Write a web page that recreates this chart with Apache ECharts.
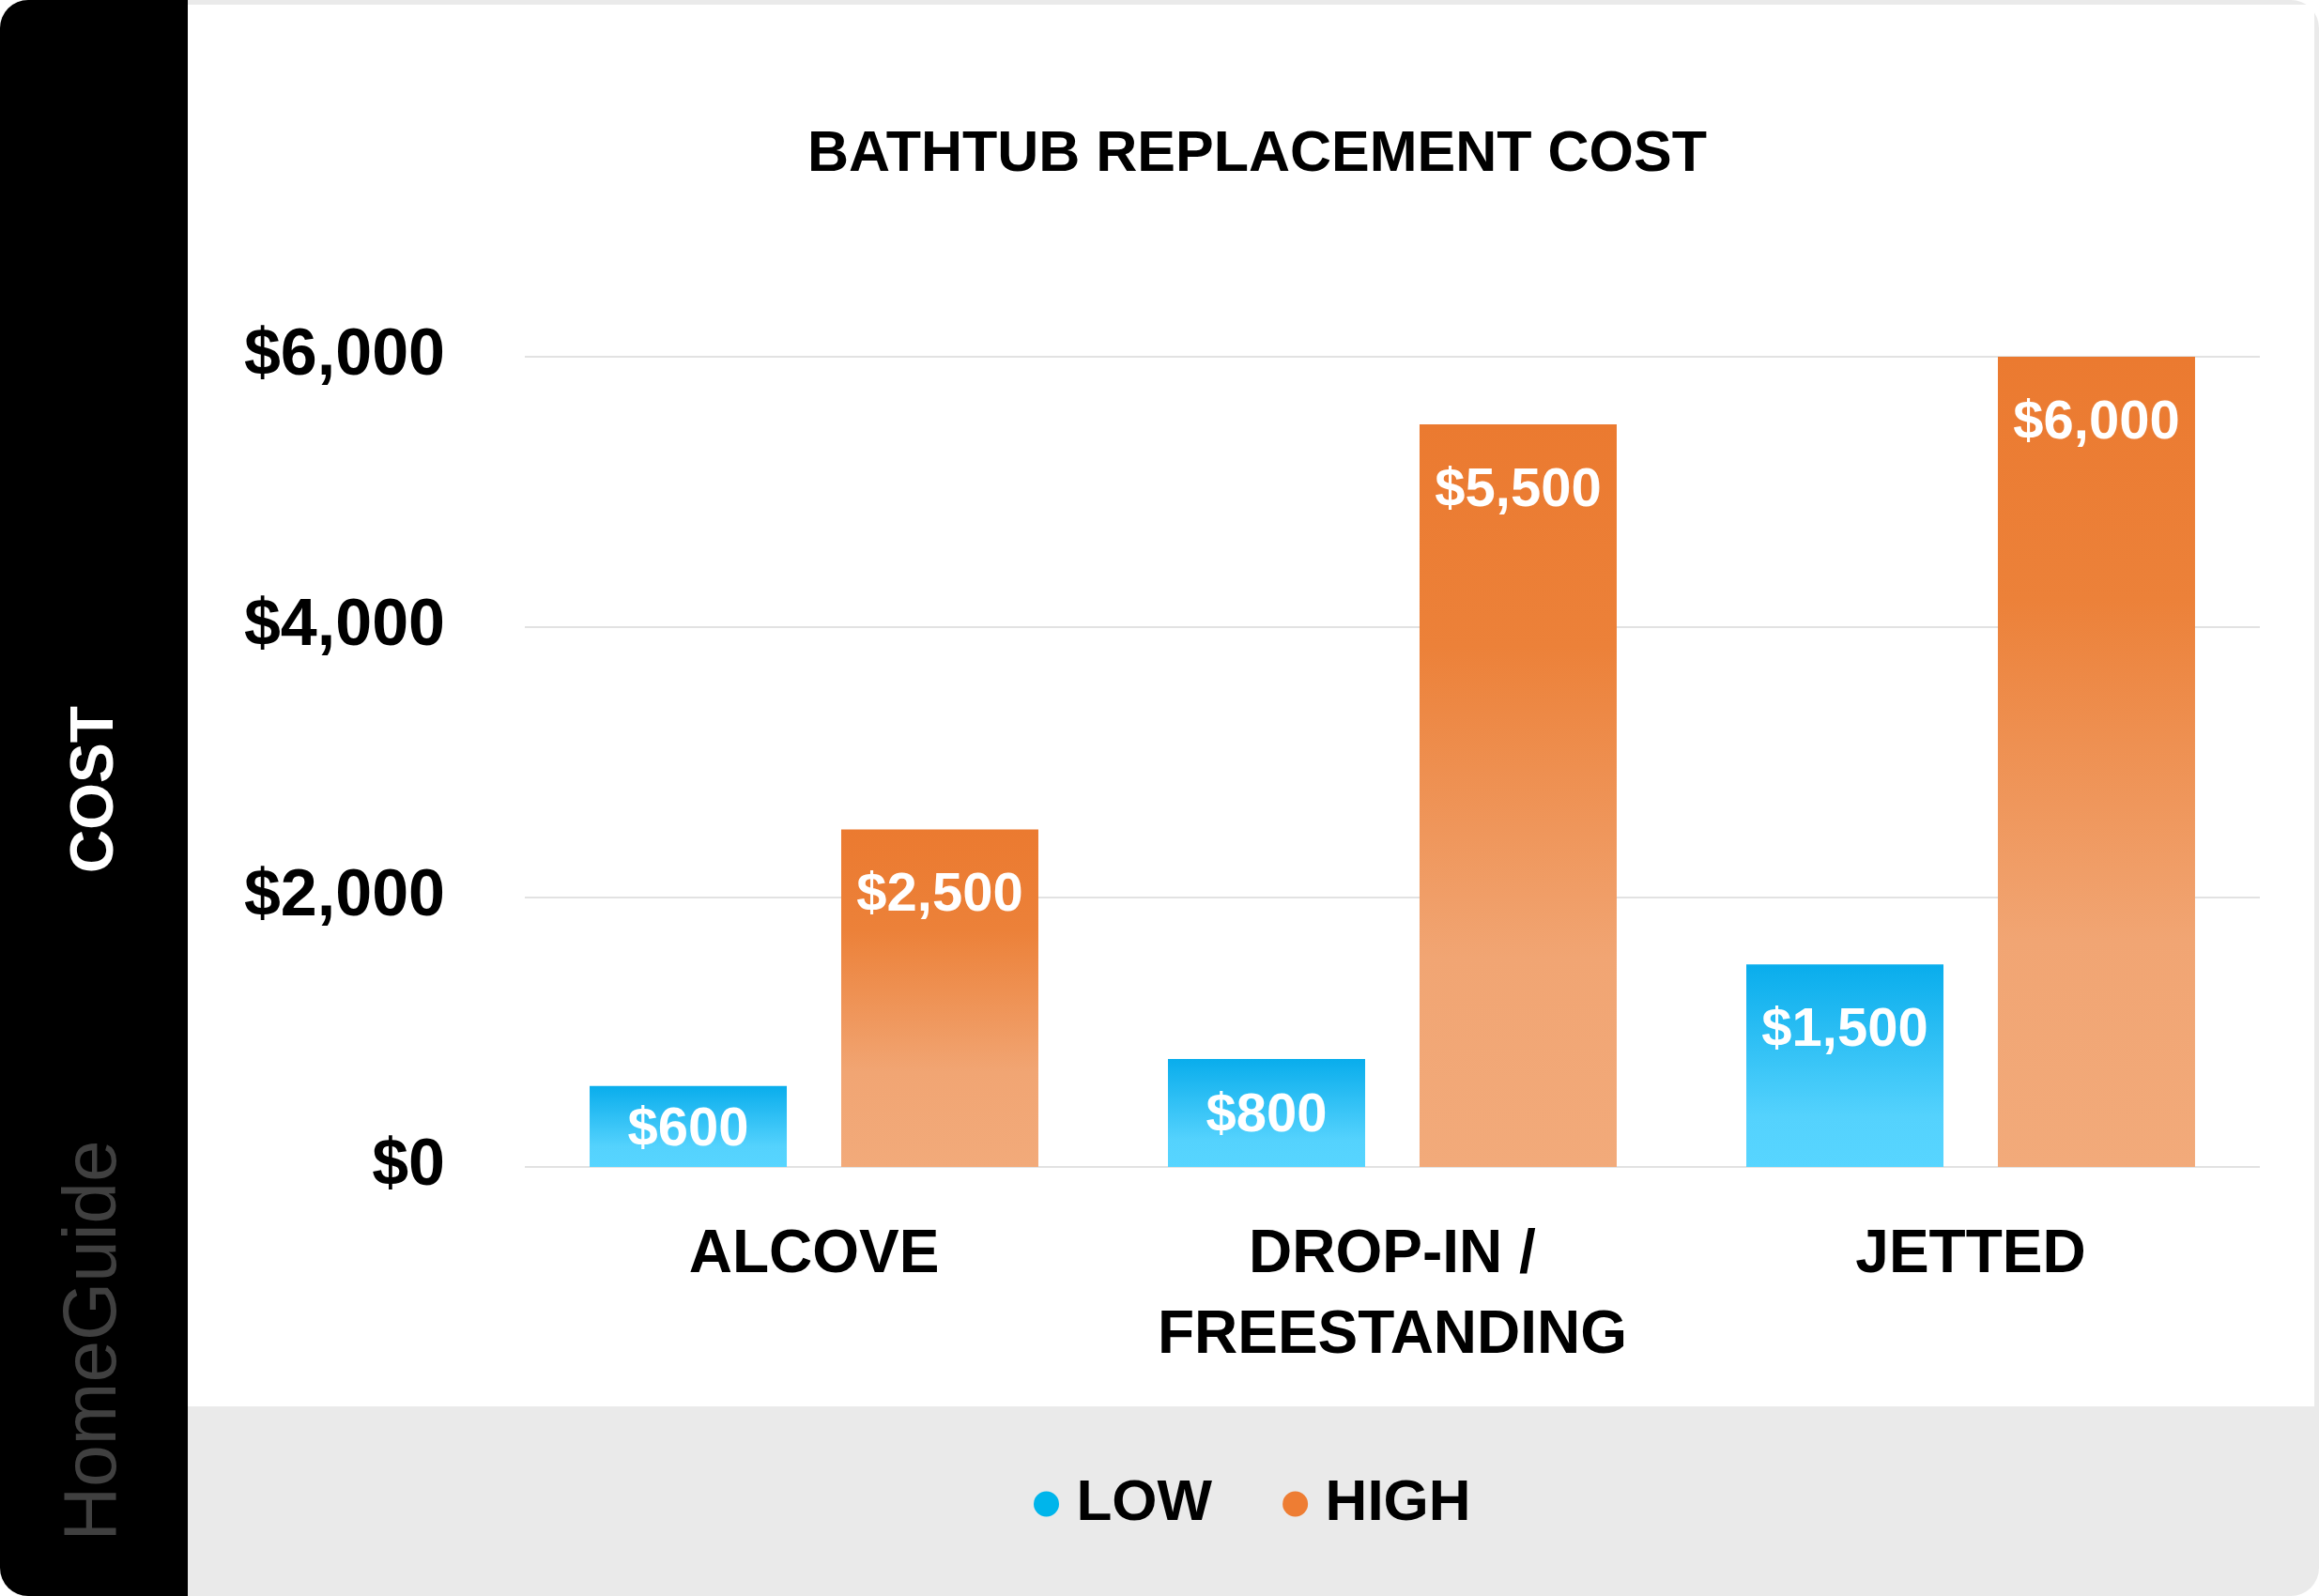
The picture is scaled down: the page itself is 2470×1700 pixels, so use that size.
<!DOCTYPE html>
<html>
<head>
<meta charset="utf-8">
<script src="https://cdn.jsdelivr.net/npm/echarts@6/dist/echarts.min.js"></script>
<style>
  html, body { margin: 0; padding: 0; background: #ffffff; }
  #chart { width: 2470px; height: 1700px; }
</style>
</head>
<body>
<div id="chart"></div>
<script>
// ---- data ----
const categories = ['ALCOVE', 'DROP-IN /\nFREESTANDING', 'JETTED'];
const lowValues = [600, 800, 1500];
const highValues = [2500, 5500, 6000];
const seriesNames = ['LOW', 'HIGH'];
const seriesColors = ['#00B5EB', '#EE7D33'];
const yTicks = [0, 2000, 4000, 6000];
const titleText = 'BATHTUB REPLACEMENT COST';
const yAxisTitle = 'COST';
const brandText = 'HomeGuide';

const FONT = '"Liberation Sans", Arial, sans-serif';
const money = v => '$' + Number(v).toLocaleString('en-US');

const chart = echarts.init(document.getElementById('chart'), null, { renderer: 'canvas' });

function grad(stops) {
  return new echarts.graphic.LinearGradient(0, 0, 0, 1, stops.map(s => ({ offset: s[0], color: s[1] })));
}
const blueGrad = grad([[0, '#09ADEC'], [0.75, '#54D2FD'], [1, '#57D5FF']]);
const orangeGrad = grad([[0, '#EB7A30'], [0.3, '#EC8139'], [0.72, '#F1A573'], [1, '#F2AA7A']]);

function labelled(values) {
  return values.map(v => ({
    value: v,
    label: v < 1000 ? { position: 'inside' } : { position: 'insideTop', distance: 38 }
  }));
}

const barLabel = {
  show: true,
  color: '#ffffff',
  fontFamily: FONT,
  fontWeight: 'bold',
  fontSize: 58,
  offset: [0, 4],
  formatter: p => money(p.value)
};

const option = {
  backgroundColor: '#ffffff',
  animation: false,
  title: {
    text: titleText,
    left: 1339,
    top: 135,
    textAlign: 'center',
    padding: 0,
    textStyle: { fontFamily: FONT, fontWeight: 'bold', fontSize: 61, color: '#000000' }
  },
  legend: {
    data: seriesNames.map((n, i) => ({ name: n, itemStyle: { color: seriesColors[i] } })),
    left: 1101,
    top: 1571,
    padding: 0,
    icon: 'circle',
    itemWidth: 54,
    itemHeight: 27,
    itemGap: 75,
    textStyle: { fontFamily: FONT, fontWeight: 'bold', fontSize: 62, color: '#000000' }
  },
  grid: { left: 559, right: 63, top: 380, bottom: 457, containLabel: false },
  xAxis: {
    type: 'category',
    data: categories,
    axisLine: { show: false },
    axisTick: { show: false },
    axisLabel: {
      interval: 0,
      margin: 51,
      fontFamily: FONT,
      fontWeight: 'bold',
      fontSize: 64,
      lineHeight: 86,
      color: '#000000'
    }
  },
  yAxis: {
    type: 'value',
    min: yTicks[0],
    max: yTicks[yTicks.length - 1],
    interval: yTicks[1] - yTicks[0],
    axisLine: { show: false },
    axisTick: { show: false },
    splitLine: { lineStyle: { color: '#e2e2e2', width: 2 } },
    axisLabel: {
      margin: 85,
      fontFamily: FONT,
      fontWeight: 'bold',
      fontSize: 70,
      padding: [4, 0, 0, 0],
      color: '#000000',
      formatter: v => money(v)
    }
  },
  series: [
    {
      name: seriesNames[0],
      type: 'bar',
      barWidth: 210,
      barGap: '27.6%',
      itemStyle: { color: blueGrad },
      label: barLabel,
      data: labelled(lowValues)
    },
    {
      name: seriesNames[1],
      type: 'bar',
      barWidth: 210,
      barGap: '27.6%',
      itemStyle: { color: orangeGrad },
      label: barLabel,
      data: labelled(highValues)
    }
  ],
  color: seriesColors,
  graphic: [
    { type: 'rect', z: -3, shape: { x: 0, y: 0, width: 2470, height: 1700, r: 30 }, style: { fill: '#eaeaea' } },
    { type: 'rect', z: -2, shape: { x: 200, y: 5, width: 2265, height: 1493 }, style: { fill: '#ffffff' } },
    { type: 'rect', z: -1, shape: { x: 0, y: 0, width: 200, height: 1700, r: [30, 0, 0, 30] }, style: { fill: '#000000' } },
    { type: 'text', z: 5, x: 102, y: 841, rotation: Math.PI / 2,
      style: { text: yAxisTitle, x: 0, y: 0, align: 'center', verticalAlign: 'middle',
               fill: '#ffffff', font: 'bold 64px "Liberation Sans", Arial, sans-serif' } },
    { type: 'text', z: 5, x: 101, y: 1428, rotation: Math.PI / 2,
      style: { text: brandText, x: 0, y: 0, align: 'center', verticalAlign: 'middle',
               fill: '#404040', font: '80px "Liberation Sans", Arial, sans-serif' } }
  ]
};

chart.setOption(option);
</script>
</body>
</html>
